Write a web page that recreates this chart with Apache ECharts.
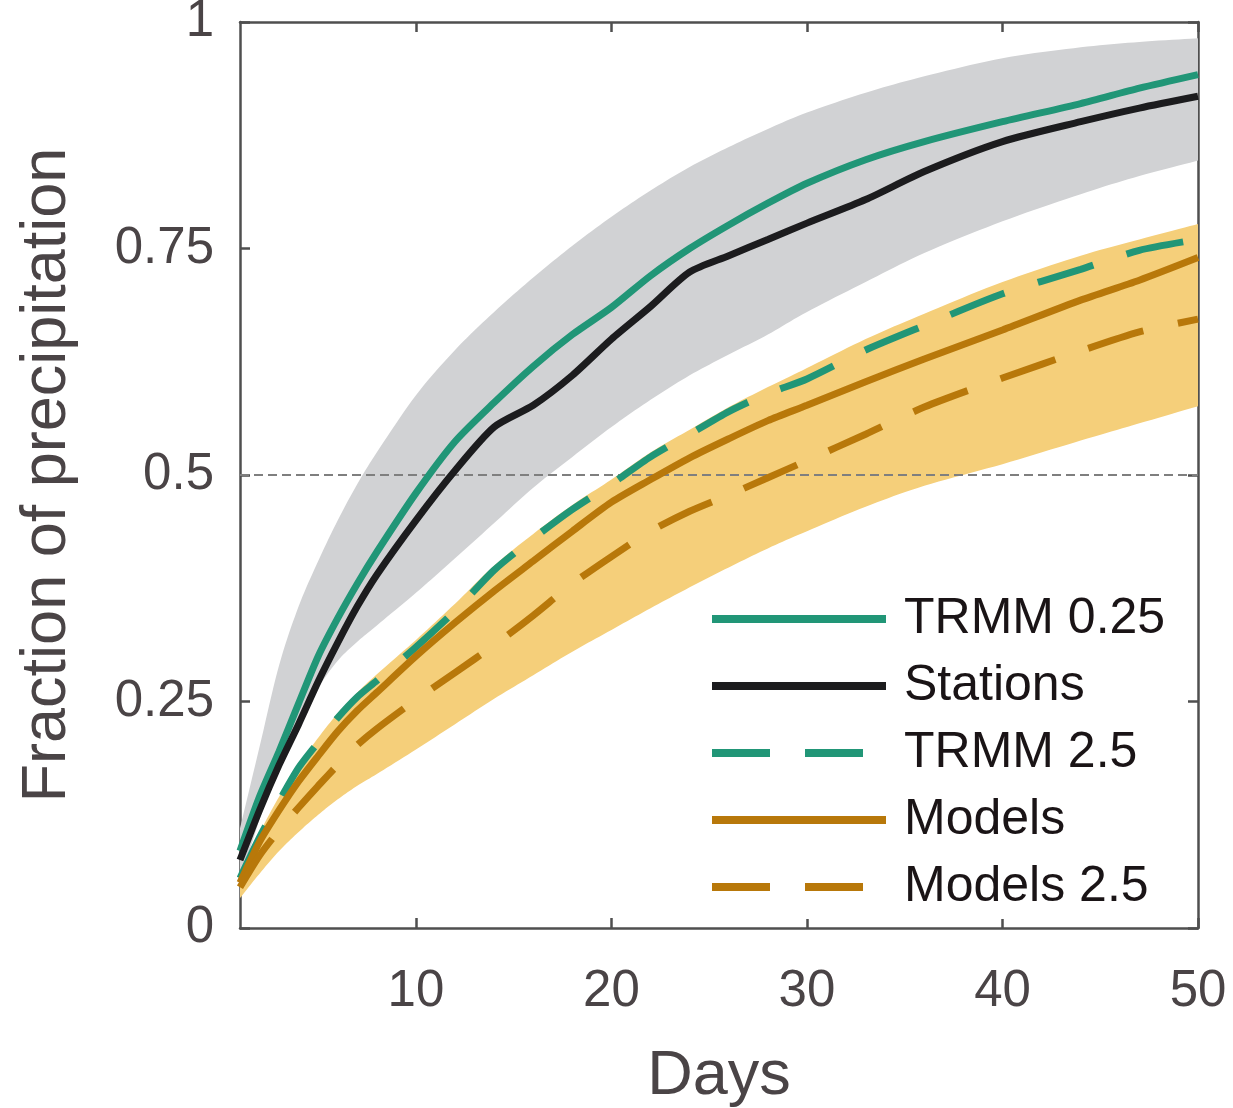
<!DOCTYPE html>
<html lang="en">
<head>
    <meta charset="UTF-8">
    <title>Fraction of precipitation</title>
    <script type="text/javascript" src="https://cdn.jsdelivr.net/npm/echarts@6/dist/echarts.min.js"></script>
    <style>
        html, body { margin: 0; padding: 0; background: #fff; }
    </style>
</head>
<body>
<div id="main" style="width:1233px;height:1108px;"></div>
<script>
    // days sampled along the curves
    const days = [1, 2, 3, 4, 5, 6, 7, 8, 10, 12, 14, 16, 18, 20, 22, 24, 26, 28, 30, 33, 36, 40, 44, 47, 50];

    const trmm025   = [0.085, 0.145, 0.195, 0.248, 0.300, 0.342, 0.380, 0.415, 0.480, 0.537, 0.580, 0.620, 0.655, 0.685, 0.720, 0.750, 0.776, 0.800, 0.822, 0.848, 0.868, 0.890, 0.910, 0.927, 0.942];
    const stations  = [0.075, 0.130, 0.180, 0.225, 0.272, 0.315, 0.355, 0.390, 0.450, 0.505, 0.553, 0.577, 0.610, 0.650, 0.686, 0.724, 0.742, 0.760, 0.778, 0.804, 0.835, 0.868, 0.890, 0.905, 0.918];
    const trmm25    = [0.055, 0.100, 0.140, 0.177, 0.205, 0.232, 0.255, 0.273, 0.310, 0.350, 0.395, 0.430, 0.462, 0.490, 0.520, 0.545, 0.570, 0.590, 0.606, 0.638, 0.665, 0.700, 0.727, 0.748, 0.760];
    const models    = [0.050, 0.095, 0.130, 0.162, 0.190, 0.217, 0.240, 0.260, 0.300, 0.337, 0.372, 0.405, 0.438, 0.470, 0.495, 0.519, 0.540, 0.560, 0.577, 0.603, 0.628, 0.660, 0.693, 0.715, 0.740];
    const models25  = [0.045, 0.080, 0.108, 0.133, 0.157, 0.180, 0.202, 0.220, 0.252, 0.282, 0.312, 0.345, 0.380, 0.410, 0.438, 0.460, 0.478, 0.497, 0.516, 0.545, 0.575, 0.607, 0.637, 0.658, 0.672];

    // spread bands (upper / lower edges)
    const grayUpper   = [0.110, 0.200, 0.290, 0.355, 0.405, 0.450, 0.490, 0.525, 0.588, 0.638, 0.680, 0.718, 0.753, 0.785, 0.814, 0.840, 0.862, 0.882, 0.900, 0.922, 0.940, 0.960, 0.972, 0.978, 0.982];
    const grayLower   = [0.050, 0.120, 0.177, 0.225, 0.265, 0.295, 0.316, 0.334, 0.370, 0.408, 0.447, 0.486, 0.520, 0.553, 0.583, 0.610, 0.633, 0.655, 0.680, 0.713, 0.745, 0.780, 0.810, 0.830, 0.847];
    const yellowUpper = [0.060, 0.105, 0.145, 0.180, 0.210, 0.237, 0.260, 0.280, 0.318, 0.358, 0.400, 0.435, 0.467, 0.495, 0.525, 0.550, 0.575, 0.597, 0.618, 0.650, 0.678, 0.713, 0.742, 0.760, 0.777];
    const yellowLower = [0.033, 0.060, 0.085, 0.106, 0.125, 0.142, 0.157, 0.170, 0.197, 0.225, 0.253, 0.279, 0.305, 0.329, 0.353, 0.376, 0.398, 0.419, 0.438, 0.465, 0.488, 0.512, 0.538, 0.557, 0.576];

    const xTicks = [10, 20, 30, 40, 50];

    const GREEN = '#219677';
    const BLACK = '#1c1c1e';
    const ORANGE = '#b8780a';
    const GRAY_BAND = '#d1d2d4';
    const YELLOW_BAND = '#f5cf7a';
    const AXIS = '#4f4f4f';
    const LABEL = '#4a4446';
    const FONT = 'Liberation Sans, Arial, sans-serif';

    const pairs = arr => days.map((d, i) => [d, arr[i]]);

    let myChart = echarts.init(document.getElementById('main'));

    function lineSeries(name, data, color, dash) {
        return {
            name: name,
            type: 'line',
            data: pairs(data),
            symbol: 'none',
            smooth: 0.25,
            z: 5,
            lineStyle: { color: color, width: 7, type: dash ? [58, 35] : 'solid', cap: 'butt' },
            itemStyle: { color: color },
            animation: false
        };
    }

    // catmull-rom through pixel points so the band edges are drawn smooth like the lines
    function spline(pts) {
        let out = [];
        for (let i = 0; i < pts.length - 1; i++) {
            const p0 = pts[Math.max(i - 1, 0)], p1 = pts[i], p2 = pts[i + 1], p3 = pts[Math.min(i + 2, pts.length - 1)];
            for (let s = 0; s < 10; s++) {
                const t = s / 10, t2 = t * t, t3 = t2 * t;
                out.push([0, 1].map(k => 0.5 * (2 * p1[k] + (-p0[k] + p2[k]) * t +
                    (2 * p0[k] - 5 * p1[k] + 4 * p2[k] - p3[k]) * t2 +
                    (-p0[k] + 3 * p1[k] - 3 * p2[k] + p3[k]) * t3)));
            }
        }
        out.push(pts[pts.length - 1]);
        return out;
    }

    // band between two edges, drawn as one polygon through the axis scales
    function bandSeries(name, lower, upper, color, z) {
        return {
            name: name,
            type: 'custom',
            z: z,
            silent: true,
            animation: false,
            clip: true,
            data: days.map((d, i) => [d, lower[i], upper[i]]),
            encode: { x: 0, y: [1, 2] },
            renderItem: function (params, api) {
                if (params.dataIndex !== 0) return null;
                const top = spline(days.map((d, i) => api.coord([d, upper[i]])));
                const bottom = spline(days.map((d, i) => api.coord([d, lower[i]]))).reverse();
                return {
                    type: 'polygon',
                    shape: { points: top.concat(bottom) },
                    style: { fill: color, stroke: null }
                };
            }
        };
    }

    let option = {
        backgroundColor: '#fff',
        grid: { left: 240, right: 35, top: 22, bottom: 180, containLabel: false, outerBoundsMode: 'none' },
        legend: {
            data: ['TRMM 0.25', 'Stations', 'TRMM 2.5', 'Models', 'Models 2.5'],
            orient: 'vertical',
            left: 696,
            top: 587,
            padding: [4, 12, 4, 12],
            backgroundColor: '#fff',
            itemWidth: 174,
            itemHeight: 14,
            itemGap: 11,
            selectedMode: false,
            itemStyle: { opacity: 0 },
            lineStyle: { width: 8 },
            textStyle: { fontFamily: FONT, fontSize: 50, color: '#1a1416', lineHeight: 56, padding: [0, 0, 0, 13] }
        },
        xAxis: [{
            type: 'value',
            min: 1,
            max: 50,
            position: 'bottom',
            name: 'Days',
            nameLocation: 'middle',
            nameGap: 117,
            nameTextStyle: { fontFamily: FONT, fontSize: 63, color: LABEL },
            axisLine: { show: true, onZero: false, lineStyle: { color: AXIS, width: 2.5 } },
            axisTick: { show: true, inside: true, length: 10, customValues: xTicks, lineStyle: { color: AXIS, width: 2.5 } },
            axisLabel: { customValues: xTicks, margin: 38, fontFamily: FONT, fontSize: 51, color: LABEL },
            splitLine: { show: false }
        }, {
            type: 'value',
            min: 1,
            max: 50,
            position: 'top',
            axisLine: { show: true, onZero: false, lineStyle: { color: AXIS, width: 2.5 } },
            axisTick: { show: true, inside: true, length: 10, customValues: xTicks, lineStyle: { color: AXIS, width: 2.5 } },
            axisLabel: { show: false },
            splitLine: { show: false }
        }],
        yAxis: [{
            type: 'value',
            min: 0,
            max: 1,
            interval: 0.25,
            position: 'left',
            name: 'Fraction of precipitation',
            nameLocation: 'middle',
            nameGap: 161,
            nameTextStyle: { fontFamily: FONT, fontSize: 63, color: LABEL },
            axisLine: { show: true, onZero: false, lineStyle: { color: AXIS, width: 2.5 } },
            axisTick: { show: true, inside: true, length: 10, lineStyle: { color: AXIS, width: 2.5 } },
            axisLabel: { margin: 26, fontFamily: FONT, fontSize: 51, color: LABEL },
            splitLine: { show: false }
        }, {
            type: 'value',
            min: 0,
            max: 1,
            interval: 0.25,
            position: 'right',
            axisLine: { show: true, onZero: false, lineStyle: { color: AXIS, width: 2.5 } },
            axisTick: { show: true, inside: true, length: 10, lineStyle: { color: AXIS, width: 2.5 } },
            axisLabel: { show: false },
            splitLine: { show: false }
        }],
        series: [
            bandSeries('gray band', grayLower, grayUpper, GRAY_BAND, 1),
            bandSeries('yellow band', yellowLower, yellowUpper, YELLOW_BAND, 2),
            {
                name: 'half',
                type: 'line',
                data: [[1, 0.5], [50, 0.5]],
                symbol: 'none',
                z: 3,
                lineStyle: { color: '#7f7f7f', width: 2, type: [9, 5] },
                animation: false,
                silent: true
            },
            lineSeries('TRMM 0.25', trmm025, GREEN, false),
            lineSeries('Stations', stations, BLACK, false),
            lineSeries('TRMM 2.5', trmm25, GREEN, true),
            lineSeries('Models', models, ORANGE, false),
            lineSeries('Models 2.5', models25, ORANGE, true)
        ]
    };

    myChart.setOption(option);
</script>
</body>
</html>
